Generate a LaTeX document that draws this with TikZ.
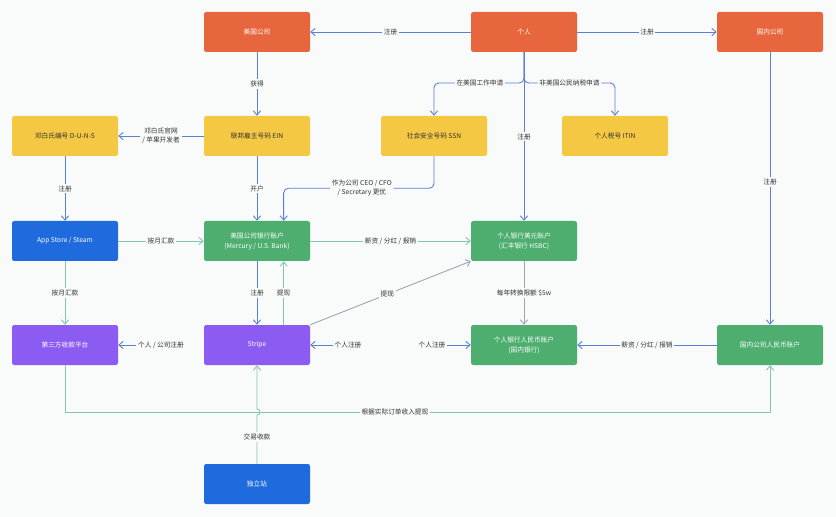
\documentclass[tikz,border=0pt]{standalone}
\usepackage{fontspec}
\setmainfont{Noto Sans CJK SC}
\usetikzlibrary{positioning, arrows.meta, calc}
\definecolor{flowOrange}{HTML}{E8663D}
\definecolor{flowYellow}{HTML}{F5C843}
\definecolor{flowBlue}{HTML}{1F6BDE}
\definecolor{flowGreen}{HTML}{4DAE6F}
\definecolor{flowPurple}{HTML}{8C5CF2}
\definecolor{flowLineBlue}{HTML}{5880D4}
\definecolor{flowLineTeal}{HTML}{84C6AC}
\definecolor{flowLineGrey}{HTML}{9AA4B8}
\definecolor{flowDark}{HTML}{333333}
\definecolor{flowBg}{HTML}{F9FAFA}

\begin{document}
\begin{tikzpicture}[
    box/.style={rectangle, rounded corners=2pt, minimum width=3.18cm, minimum height=1.2cm, align=center, text=white, font=\fontsize{5.7}{8.5}\selectfont, inner sep=2pt},
    boxOrange/.style={box, fill=flowOrange},
    boxYellow/.style={box, fill=flowYellow, text=flowDark},
    boxBlue/.style={box, fill=flowBlue},
    boxGreen/.style={box, fill=flowGreen},
    boxPurple/.style={box, fill=flowPurple},
    >={Straight Barb[length=1.3mm, width=2.2mm]},
    lbl/.style={fill=flowBg, inner sep=1.5pt, font=\fontsize{5.7}{7.5}\selectfont, text=flowDark, align=center},
    lineBlue/.style={draw=flowLineBlue, line width=0.75pt, ->},
    lineTeal/.style={draw=flowLineTeal, line width=0.75pt, ->},
    lineGrey/.style={draw=flowLineGrey, line width=0.75pt, ->},
]
\useasboundingbox[fill=flowBg] (0,0) rectangle (25.08,-15.51);
\node[boxOrange] (uscorp)   at (7.71,-0.96)   {美国公司};
\node[boxOrange] (person)   at (15.72,-0.96)  {个人};
\node[boxOrange] (cncorp)   at (23.1,-0.96)   {国内公司};
\node[boxYellow] (duns)     at (1.95,-4.08)   {邓白氏编号 D-U-N-S};
\node[boxYellow] (ein)      at (7.71,-4.08)   {联邦雇主号码 EIN};
\node[boxYellow] (ssn)      at (13.02,-4.08)  {社会安全号码 SSN};
\node[boxYellow] (itin)     at (18.45,-4.08)  {个人税号 ITIN};
\node[boxBlue]   (appstore) at (1.95,-7.23)   {App Store / Steam};
\node[boxGreen]  (usbank)   at (7.71,-7.23)   {美国公司银行账户\\(Mercury / U.S. Bank)};
\node[boxGreen]  (usdacct)  at (15.72,-7.23)  {个人银行美元账户\\(汇丰银行 HSBC)};
\node[boxPurple] (payplat)  at (1.95,-10.35)  {第三方收款平台};
\node[boxPurple] (stripe)   at (7.71,-10.35)  {Stripe};
\node[boxGreen]  (rmbacct)  at (15.72,-10.35) {个人银行人民币账户\\(国内银行)};
\node[boxGreen]  (cnacct)   at (23.1,-10.35)  {国内公司人民币账户};
\node[boxBlue]   (website)  at (7.71,-14.52)  {独立站};
\node[lbl] (regplat)   at (4.83,-10.35)  {个人 / 公司注册};
\node[lbl] (regstripe) at (10.44,-10.35) {个人注册};
\node[lbl] (regrmb)    at (12.96,-10.35) {个人注册};
\coordinate (split)   at (15.72,-2.49);
\coordinate (busrow)  at (0,-12.36);
\draw[lineBlue] (person) -- node[lbl]{注册} (uscorp);
\draw[lineBlue] (person) -- node[lbl]{注册} (cncorp);
\draw[lineBlue] (uscorp) -- node[lbl]{获得} (ein);
\draw[lineBlue] (ein) -- node[lbl]{邓白氏官网\\/ 苹果开发者} (duns);
\draw[lineBlue, rounded corners=4pt] (person.south) -- (split) -| node[lbl, pos=0.245]{在美国工作申请} (ssn.north);
\draw[lineBlue, rounded corners=4pt] (person.south) -- (split) -| node[lbl, pos=0.25]{非美国公民纳税申请} (itin.north);
\draw[lineBlue] (person) -- node[lbl]{注册} (usdacct);
\draw[lineBlue] (cncorp) -- node[lbl, pos=0.476]{注册} (cnacct);
\draw[lineBlue] (duns) -- node[lbl]{注册} (appstore);
\draw[lineBlue] (ein) -- node[lbl]{开户} (usbank);
\draw[lineBlue, rounded corners=4pt] (ssn.south) -- ++(0,-0.96) -| node[lbl, pos=0.24]{作为公司 CEO / CFO\\/ Secretary 更优} ([xshift=0.8cm]usbank.north);
\draw[lineTeal] (appstore) -- node[lbl]{按月汇款} (usbank);
\draw[lineTeal] (appstore) -- node[lbl]{按月汇款} (payplat);
\draw[lineTeal] (usbank) -- node[lbl]{薪资 / 分红 / 报销} (usdacct);
\draw[lineBlue] (usbank.south) -- node[lbl]{注册} (stripe.north);
\draw[lineTeal] ([xshift=0.8cm]stripe.north) -- node[lbl]{提现} ([xshift=0.8cm]usbank.south);
\draw[lineGrey] (stripe.north east) -- node[lbl, pos=0.48]{提现} (usdacct.south west);
\draw[lineGrey] (usdacct) -- node[lbl]{每年转换限额 \$5w} (rmbacct);
\draw[lineBlue] (regplat) -- (payplat);
\draw[lineBlue] (regstripe) -- (stripe);
\draw[lineBlue] (regrmb) -- (rmbacct);
\draw[lineBlue] (cnacct) -- node[lbl]{薪资 / 分红 / 报销} (rmbacct);
\draw[lineTeal] (payplat.south) -- (payplat.south |- busrow) -| node[lbl, pos=0.234]{根据实际订单收入提现} (cnacct.south);
\draw[lineTeal] (website.north) -- node[lbl, pos=0.55]{交易收款} ($(website.north |- busrow)+(0,-0.09)$)
    arc[start angle=-90, end angle=90, radius=0.09] -- (stripe.south);
\end{tikzpicture}
\end{document}
